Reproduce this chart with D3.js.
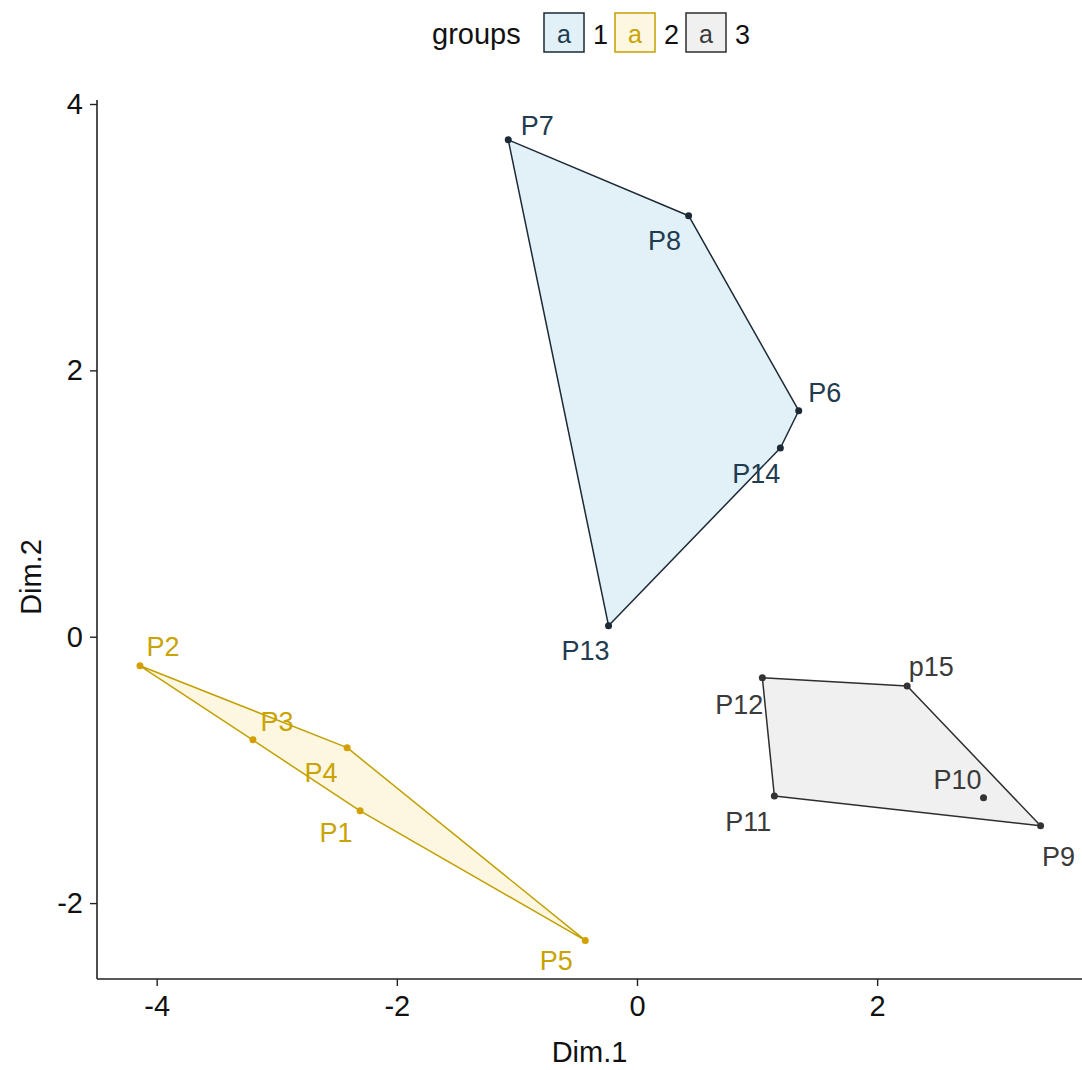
<!DOCTYPE html>
<html><head><meta charset="utf-8">
<script src="https://cdn.jsdelivr.net/npm/d3@7"></script>
<style>
html,body{margin:0;padding:0;background:#fff;}
text{font-family:"Liberation Sans",Arial,sans-serif;}
</style></head>
<body><svg id="c" width="1082" height="1070"></svg>
<script>
// ---- data ----
const names = ["P1","P2","P3","P4","P5","P6","P7","P8","P9","P10","P11","P12","P13","P14","p15"];
const dim1  = [-2.306,-4.139,-3.198,-2.414,-0.431,1.347,-1.072,0.430,3.361,2.886,1.144,1.044,-0.237,1.194,2.250];
const dim2  = [-1.307,-0.218,-0.773,-0.833,-2.280,1.697,3.731,3.161,-1.419,-1.209,-1.196,-0.308,0.083,1.417,-0.370];
const groupOf = ["2","2","2","2","2","1","1","1","3","3","3","3","1","1","3"];
const groupLevels = ["1","2","3"];
const xTicks = [-4,-2,0,2];
const yTicks = [-2,0,2,4];

(function(){
// ---- styling / layout ----
const style = {
  "1": {text:"#1f3b50", line:"#1b2a36", fill:"#e2f0f8", point:"#1b2a36"},
  "2": {text:"#c9a300", line:"#c2a000", fill:"#fdf7e1", point:"#d4a000"},
  "3": {text:"#3a3a3a", line:"#2e2e2e", fill:"#f0f0f0", point:"#333333"}
};
// repelled label offsets (px) keyed by name
const labelOffset = {
  P1:[-24,22], P2:[23,-19], P3:[24,-18], P4:[-26,25], P5:[-29,21],
  P6:[26,-18], P7:[29,-14], P8:[-24,25], P9:[18,31], P10:[-26,-18],
  P11:[-26,26], P12:[-23,27], P13:[-23,25], P14:[-24,26], p15:[24,-19]
};

const svg = d3.select("#c");
const mL = 97, mR = 1082, mT = 100, mB = 979;
const x = d3.scaleLinear().domain([-4.497, 3.706]).range([mL, mR]);
const y = d3.scaleLinear().domain([-2.57, 4.03]).range([mB, mT]);

const pts = names.map((n,i)=>({name:n, x:dim1[i], y:dim2[i], g:groupOf[i]}));

// hulls
const hullG = svg.append("g");
groupLevels.forEach(g=>{
  const gp = pts.filter(p=>p.g===g).map(p=>[x(p.x), y(p.y)]);
  const hull = d3.polygonHull(gp);
  hullG.append("path")
    .attr("d", "M" + hull.map(p=>p.join(",")).join("L") + "Z")
    .attr("fill", style[g].fill)
    .attr("stroke", style[g].line)
    .attr("stroke-width", 1.5)
    .attr("stroke-linejoin","round");
});

// points
svg.append("g").selectAll("circle").data(pts).join("circle")
  .attr("cx", d=>x(d.x)).attr("cy", d=>y(d.y)).attr("r", 3.5)
  .attr("fill", d=>style[d.g].point);

// labels
svg.append("g").selectAll("text").data(pts).join("text")
  .attr("x", d=>x(d.x)+labelOffset[d.name][0])
  .attr("y", d=>y(d.y)+labelOffset[d.name][1])
  .attr("text-anchor","middle").attr("dominant-baseline","central")
  .attr("font-size", 27)
  .attr("fill", d=>style[d.g].text)
  .text(d=>d.name);

// axes
const fmt = d => String(d);
const xAxis = svg.append("g").attr("transform", `translate(0,${mB})`)
  .call(d3.axisBottom(x).tickValues(xTicks).tickSize(7).tickPadding(9).tickFormat(fmt));
const yAxis = svg.append("g").attr("transform", `translate(${mL},0)`)
  .call(d3.axisLeft(y).tickValues(yTicks).tickSize(7).tickPadding(7).tickFormat(fmt));
[xAxis, yAxis].forEach(a=>{
  a.select(".domain").attr("stroke","#222").attr("stroke-width",1.6);
  a.selectAll(".tick line").attr("stroke","#222").attr("stroke-width",1.4);
  a.selectAll(".tick text").attr("font-size",29).attr("fill","#111")
    .attr("font-family","'Liberation Sans',Arial,sans-serif");
});
xAxis.select(".domain").attr("d", `M${mL},0H${mR}`);
yAxis.select(".domain").attr("d", `M0,${mT}V${mB}`);

// axis titles
svg.append("text").attr("x", (mL+mR)/2).attr("y", 1062)
  .attr("text-anchor","middle").attr("font-size",29).attr("fill","#111").text("Dim.1");
svg.append("text").attr("transform", `translate(41,577) rotate(-90)`)
  .attr("text-anchor","middle").attr("font-size",29).attr("fill","#111").text("Dim.2");

// legend
const lg = svg.append("g");
lg.append("text").attr("x", 432).attr("y", 44).attr("font-size",29).attr("fill","#111").text("groups");
const keyX = [543, 614, 685];
groupLevels.forEach((g,i)=>{
  const kx = keyX[i];
  lg.append("rect").attr("x", kx+1).attr("y", 13).attr("width", 40).attr("height", 39)
    .attr("fill", style[g].fill).attr("stroke", style[g].line).attr("stroke-width",1.5);
  lg.append("text").attr("x", kx+21).attr("y", 34).attr("text-anchor","middle")
    .attr("dominant-baseline","central").attr("font-size",25)
    .attr("fill", style[g].text).text("a");
  lg.append("text").attr("x", kx+50).attr("y", 44).attr("font-size",27).attr("fill","#111").text(g);
});
})();
</script>
</body></html>
